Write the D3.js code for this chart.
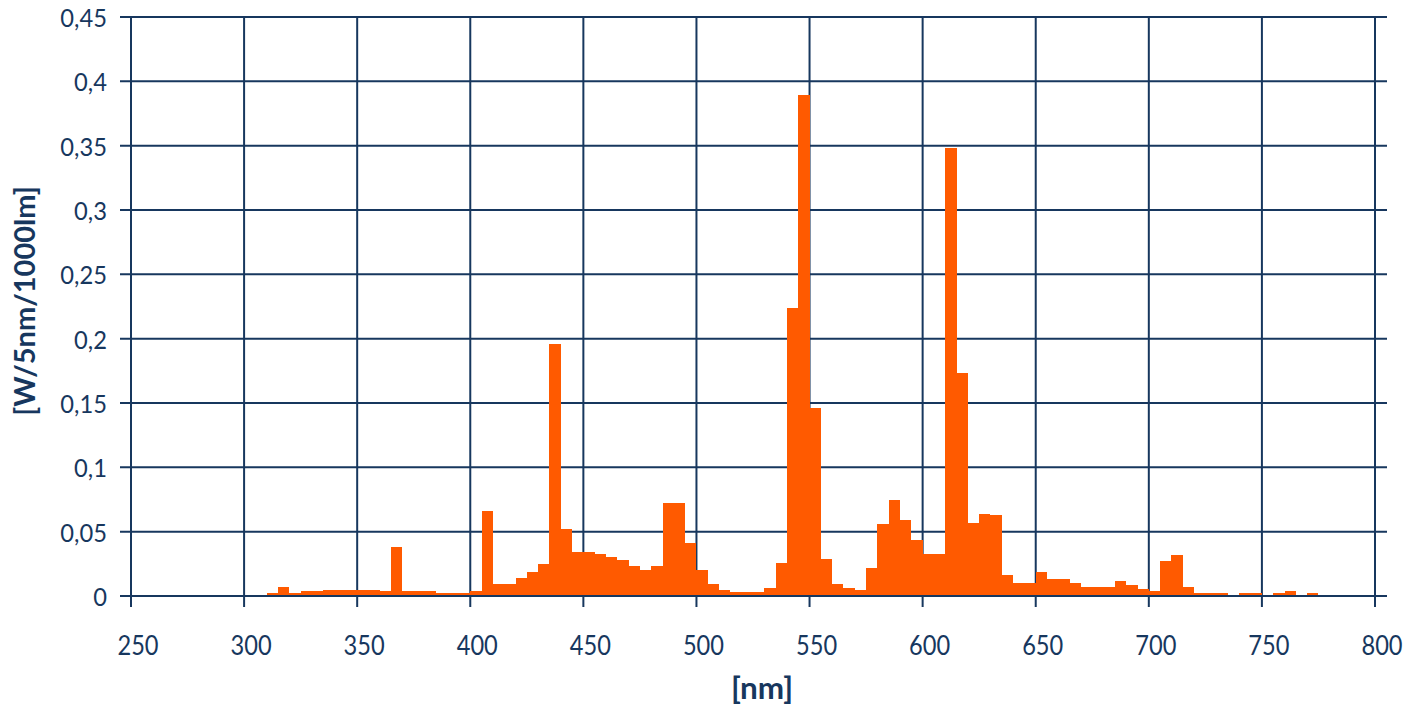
<!DOCTYPE html>
<html>
<head>
<meta charset="utf-8">
<script src="https://cdn.jsdelivr.net/npm/d3@7"></script>
<style>
  html, body { margin: 0; padding: 0; background: #fff; }
  svg { display: block; }
</style>
</head>
<body>
<svg id="chart" width="1420" height="706"></svg>
<script>
// ---- data ----
const wavelengths = [310,315,320,325,330,335,340,345,350,355,360,365,370,375,380,385,390,395,
  400,405,410,415,420,425,430,435,440,445,450,455,460,465,470,475,480,485,490,495,
  500,505,510,515,520,525,530,535,540,545,550,555,560,565,570,575,580,585,590,595,
  600,605,610,615,620,625,630,635,640,645,650,655,660,665,670,675,680,685,690,695,
  700,705,710,715,720,725,730,735,740,745,750,755,760,765,770];
const power = [0.002,0.007,0.002,0.004,0.004,0.005,0.005,0.005,0.005,0.005,0.004,0.038,0.004,0.004,0.004,0.002,0.002,0.002,
  0.0035,0.066,0.0097,0.0097,0.014,0.019,0.025,0.196,0.052,0.0345,0.0345,0.033,0.030,0.028,0.0235,0.0205,0.0235,0.072,0.072,0.041,
  0.0205,0.0097,0.005,0.0034,0.003,0.003,0.006,0.026,0.224,0.389,0.146,0.029,0.009,0.006,0.0044,0.022,0.056,0.075,0.059,0.0435,
  0.0325,0.0325,0.348,0.173,0.057,0.064,0.063,0.016,0.0098,0.0098,0.019,0.013,0.013,0.0098,0.0067,0.0067,0.0067,0.0114,0.0083,0.0052,
  0.0036,0.027,0.0316,0.0067,0.002,0.002,0.002,0,0.002,0.002,0,0.002,0.0036,0,0.002];
const binWidth = 5;
const xTicks = [250,300,350,400,450,500,550,600,650,700,750,800];
const xTickLabels = ["250","300","350","400","450","500","550","600","650","700","750","800"];
const yTicks = [0,0.05,0.1,0.15,0.2,0.25,0.3,0.35,0.4,0.45];
const yTickLabels = ["0","0,05","0,1","0,15","0,2","0,25","0,3","0,35","0,4","0,45"];
const xTitle = "[nm]";
const yTitle = "[W/5nm/1000lm]";

// ---- layout ----
const navy = "#17375E";
const barColor = "#FF5A00";
const font = "Lato, 'Open Sans', sans-serif";
const mLeft = 131, mRight = 1375, mExtRight = 1387, mTop = 17, mBottom = 596, tickLen = 11;

const x = d3.scaleLinear().domain([250, 800]).range([mLeft, mRight]);
const y = d3.scaleLinear().domain([0, 0.45]).range([mBottom, mTop]);

const svg = d3.select("#chart");

// horizontal gridlines (with left tick extension)
svg.append("g").selectAll("line").data(yTicks).join("line")
  .attr("x1", mLeft - tickLen).attr("x2", mExtRight)
  .attr("y1", d => y(d)).attr("y2", d => y(d))
  .attr("stroke", navy).attr("stroke-width", 2);

// vertical gridlines (with tick extension below)
svg.append("g").selectAll("line").data(xTicks).join("line")
  .attr("x1", d => x(d)).attr("x2", d => x(d))
  .attr("y1", mTop).attr("y2", mBottom + tickLen)
  .attr("stroke", navy).attr("stroke-width", 2);

// bars
const bars = wavelengths.map((w, i) => ({w, v: power[i]}));
svg.append("g").selectAll("rect").data(bars.filter(d => d.v > 0)).join("rect")
  .attr("x", d => x(d.w))
  .attr("width", d => x(d.w + binWidth) - x(d.w))
  .attr("y", d => y(d.v))
  .attr("height", d => y(0) - y(d.v))
  .attr("fill", barColor)
  .attr("shape-rendering", "crispEdges");

// axis lines
svg.append("line").attr("x1", mLeft).attr("x2", mExtRight).attr("y1", y(0)).attr("y2", y(0))
  .attr("stroke", navy).attr("stroke-width", 2);
svg.append("line").attr("x1", mLeft).attr("x2", mLeft).attr("y1", mTop).attr("y2", mBottom)
  .attr("stroke", navy).attr("stroke-width", 2);

// y tick labels
svg.append("g").selectAll("text").data(yTicks).join("text")
  .attr("transform", d => `translate(107, ${y(d)}) scale(0.95,1)`)
  .attr("dy", "0.4em")
  .attr("text-anchor", "end")
  .attr("font-family", font).attr("font-size", 25).attr("fill", navy)
  .text((d, i) => yTickLabels[i]);

// x tick labels
svg.append("g").selectAll("text").data(xTicks).join("text")
  .attr("transform", d => `translate(${x(d) + 7}, 655) scale(0.86,1)`)
  .attr("text-anchor", "middle")
  .attr("font-family", font).attr("font-size", 27.5).attr("fill", navy)
  .text((d, i) => xTickLabels[i]);

// axis titles
svg.append("text").attr("transform", "translate(762, 699) scale(1.05,1)")
  .attr("text-anchor", "middle")
  .attr("font-family", font).attr("font-size", 30).attr("font-weight", "bold").attr("fill", navy)
  .text(xTitle);
svg.append("text")
  .attr("transform", `translate(35, 301) rotate(-90)`)
  .attr("text-anchor", "middle")
  .attr("font-family", font).attr("font-size", 29).attr("font-weight", "bold").attr("fill", navy)
  .text(yTitle);
</script>
</body>
</html>
